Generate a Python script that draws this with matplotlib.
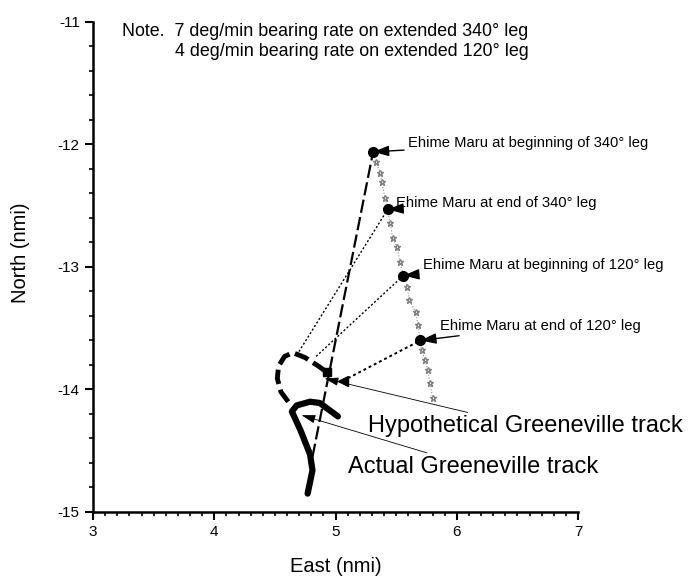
import numpy as np
import matplotlib
matplotlib.use("Agg")
import matplotlib.pyplot as plt
from matplotlib.ticker import MultipleLocator

plt.rcParams["font.family"] = ["Liberation Sans", "DejaVu Sans"]
plt.rcParams["axes.unicode_minus"] = False

# Greeneville actual track (East, North in nmi)
actual_x = [4.77, 4.81, 4.79, 4.71, 4.64, 4.68, 4.79, 4.87, 5.02]
actual_y = [-14.85, -14.66, -14.53, -14.33, -14.18, -14.13, -14.10, -14.11, -14.22]

# Greeneville hypothetical track
hypo_x = [4.61, 4.55, 4.52, 4.53, 4.58, 4.65, 4.75, 4.86, 4.93]
hypo_y = [-14.10, -14.02, -13.91, -13.81, -13.73, -13.70, -13.74, -13.81, -13.86]

# Ehime Maru track
ehime_x = [5.33, 5.37, 5.38, 5.41, 5.45, 5.47, 5.51, 5.53, 5.59, 5.61,
           5.66, 5.68, 5.71, 5.74, 5.76, 5.78, 5.80]
ehime_y = [-12.14, -12.23, -12.31, -12.44, -12.64, -12.76, -12.84, -12.96,
           -13.16, -13.27, -13.37, -13.47, -13.68, -13.76, -13.84, -13.95, -14.07]

# Ehime Maru key positions and labels
event_x = [5.31, 5.43, 5.56, 5.70]
event_y = [-12.06, -12.53, -13.07, -13.60]
event_labels = [
    "Ehime Maru at beginning of 340° leg",
    "Ehime Maru at end of 340° leg",
    "Ehime Maru at beginning of 120° leg",
    "Ehime Maru at end of 120° leg",
]
label_x = [5.60, 5.50, 5.72, 5.86]
label_y = [-11.99, -12.48, -12.98, -13.48]

# Greeneville end of each line of sight
sight_x = [4.81, 4.68, 4.84, 5.06]
sight_y = [-14.55, -13.72, -13.73, -13.93]

fig = plt.figure(figsize=(6.92, 5.77), dpi=100)
ax = fig.add_axes([0.1344, 0.1127, 0.7009, 0.8492])

# lines of sight
ax.plot([sight_x[0], event_x[0]], [sight_y[0], event_y[0]], color="black",
        lw=1.6, dashes=(6, 2))
for i in range(1, 4):
    ax.plot([sight_x[i], event_x[i]], [sight_y[i], event_y[i]], color="black",
            lw=1.0 if i < 3 else 1.4, linestyle=(0, (1.5, 1.5)))
ax.plot(sight_x[3], sight_y[3], marker="<", color="black", ms=7)

# tracks
ax.plot(ehime_x, ehime_y, color="#909090", lw=0.8, linestyle=":",
        marker="*", ms=5, mfc="white", mec="#808080")
ax.plot(actual_x, actual_y, color="black", lw=4.5, solid_capstyle="round")
ax.plot(hypo_x, hypo_y, color="black", lw=3.5, dashes=(3, 1.2))
ax.plot(hypo_x[-1], hypo_y[-1], marker="s", color="black", ms=6)
ax.plot(event_x, event_y, "o", color="black", ms=7)

# Ehime Maru labels
for ex, ey, lx, ly, txt in zip(event_x, event_y, label_x, label_y, event_labels):
    ax.annotate(txt, xy=(ex, ey), xytext=(lx, ly), fontsize=10.6,
                ha="left", va="center",
                arrowprops=dict(arrowstyle="-|>,head_length=0.9,head_width=0.3",
                                color="black", lw=1.0, shrinkA=1, shrinkB=0))

ax.annotate("Hypothetical Greeneville track", xy=(4.91, -13.91),
            xytext=(5.27, -14.30), fontsize=17, ha="left", va="center",
            arrowprops=dict(arrowstyle="-|>,head_length=0.5,head_width=0.15",
                            color="black", lw=0.6, shrinkA=0, shrinkB=0))
ax.annotate("Actual Greeneville track", xy=(4.72, -14.21),
            xytext=(5.10, -14.63), fontsize=17, ha="left", va="center",
            arrowprops=dict(arrowstyle="-|>,head_length=0.5,head_width=0.15",
                            color="black", lw=0.6, shrinkA=0, shrinkB=0))

ax.text(3.24, -11.08, "Note.  7 deg/min bearing rate on extended 340° leg",
        fontsize=12.9, ha="left", va="center")
ax.text(3.68, -11.24, "4 deg/min bearing rate on extended 120° leg",
        fontsize=12.9, ha="left", va="center")

ax.set_xlim(3, 7)
ax.set_ylim(-15, -11)
ax.xaxis.set_major_locator(MultipleLocator(1))
ax.xaxis.set_minor_locator(MultipleLocator(0.1))
ax.yaxis.set_major_locator(MultipleLocator(1))
ax.yaxis.set_minor_locator(MultipleLocator(0.2))
ax.tick_params(which="major", direction="out", length=6, width=1.5, labelsize=11)
ax.tick_params(which="minor", direction="out", length=3, width=1.2)
ax.spines["top"].set_visible(False)
ax.spines["right"].set_visible(False)
ax.spines["left"].set_linewidth(1.8)
ax.spines["bottom"].set_linewidth(1.8)
ax.set_xlabel("East (nmi)", fontsize=14.5)
ax.set_ylabel("North (nmi)", fontsize=14.5)
ax.xaxis.set_label_coords(0.5, -0.092)
ax.yaxis.set_label_coords(-0.13, 0.53)

fig.savefig("out.png", dpi=100)
